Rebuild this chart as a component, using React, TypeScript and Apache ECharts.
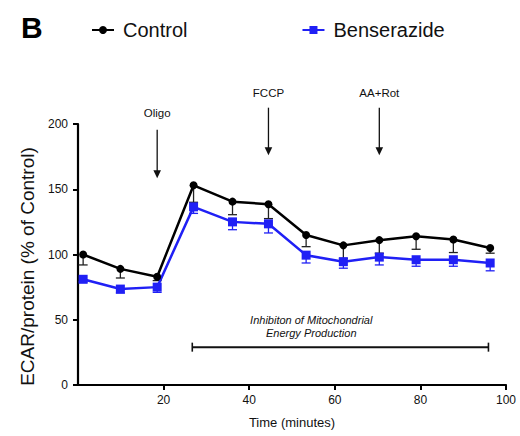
import React, { useEffect, useRef } from "react";
import * as echarts from "echarts";

// ---- data ----
const times = [1.2, 9.9, 18.5, 27.0, 36.1, 44.5, 53.3, 62.0, 70.4, 79.0, 87.7, 96.3];
const control = [100, 89, 83, 153, 140.5, 138.5, 115, 107, 111, 114, 111.5, 105];
const controlErr = [8, 7, 3, 13, 10, 11, 9, 10, 10, 10, 10, 4];
const benserazide = [81, 73.5, 75, 136.5, 125, 123.5, 99.5, 94.5, 98, 96, 96, 93.5];
const benserazideErr = [2, 3, 4, 5, 6, 7, 6, 5, 6, 5, 5, 6];

const seriesNames = ["Control", "Benserazide"];
const injections = [
  { label: "Oligo", x: 18.5, labelY: 208.5, from: 195.5, to: 158.5 },
  { label: "FCCP", x: 44.5, labelY: 224, from: 212.5, to: 176 },
  { label: "AA+Rot", x: 70.4, labelY: 224, from: 212.5, to: 176 },
];
const bracket = { from: 26.7, to: 95.9, y: 29, textX: 54.5, line1Y: 49.6, line2Y: 39.8 };
const bracketLines = ["Inhibiton of Mitochondrial", "Energy Production"];

const FONT = "'Liberation Sans', Arial, Helvetica, sans-serif";
const BLACK = "#000000";
const BLUE = "#2020f5";

function errData(ys: number[], errs: number[]) {
  return times.map((t, i) => [t, ys[i], ys[i] - errs[i]]);
}

function makeErrSeries(name: string, ys: number[], errs: number[], color: string) {
  return {
    type: "custom",
    name,
    z: 1,
    data: errData(ys, errs),
    encode: { x: 0, y: [1, 2] },
    renderItem: (params: any, api: any) => {
      const x = api.value(0);
      const p0 = api.coord([x, api.value(1)]);
      const p1 = api.coord([x, api.value(2)]);
      const style = { stroke: color, lineWidth: 1.3 };
      return {
        type: "group",
        children: [
          { type: "line", shape: { x1: p0[0], y1: p0[1], x2: p1[0], y2: p1[1] }, style },
          { type: "line", shape: { x1: p1[0] - 4.5, y1: p1[1], x2: p1[0] + 4.5, y2: p1[1] }, style },
        ],
      };
    },
  };
}

export default function App() {
  const ref = useRef<HTMLDivElement>(null);
  useEffect(() => {
    if (!ref.current) return;
    const chart = echarts.init(ref.current, null, { renderer: "svg" });
    const option: any = {
      animation: false,
      backgroundColor: "#ffffff",
      title: {
        text: "B",
        left: 16,
        top: 7,
        textStyle: { fontFamily: FONT, fontSize: 30, fontWeight: "bold", color: "#000" },
      },
      legend: {
        data: seriesNames,
        left: 86,
        top: 15,
        itemGap: 114,
        itemWidth: 22,
        itemHeight: 10,
        textStyle: { fontFamily: FONT, fontSize: 20, color: "#111", padding: [0, 0, 0, 4] },
      },
      grid: { left: 78, right: 14, top: 124, bottom: 51, containLabel: false },
      xAxis: {
        type: "value",
        min: 0,
        max: 100,
        interval: 20,
        name: "Time (minutes)",
        nameLocation: "middle",
        nameGap: 31,
        nameTextStyle: { fontFamily: FONT, fontSize: 13, color: "#111" },
        axisLine: { show: true, lineStyle: { color: BLACK, width: 2.2 } },
        axisTick: { show: true, length: 5, lineStyle: { color: BLACK, width: 2 } },
        axisLabel: { showMinLabel: false, fontFamily: FONT, fontSize: 12, color: "#111", margin: 9 },
        splitLine: { show: false },
      },
      yAxis: {
        type: "value",
        min: 0,
        max: 200,
        interval: 50,
        name: "ECAR/protein (% of Control)",
        nameLocation: "middle",
        nameGap: 37,
        nameTextStyle: { fontFamily: FONT, fontSize: 19, color: "#111", padding: [0, 24, 0, 0] },
        axisLine: { show: true, lineStyle: { color: BLACK, width: 2.2 } },
        axisTick: { show: true, length: 5, lineStyle: { color: BLACK, width: 2 } },
        axisLabel: { fontFamily: FONT, fontSize: 12, color: "#111", margin: 10 },
        splitLine: { show: false },
      },
      series: [
        makeErrSeries("Control SEM", control, controlErr, "#222"),
        makeErrSeries("Benserazide SEM", benserazide, benserazideErr, BLUE),
        {
          type: "line",
          name: "Control",
          z: 3,
          data: times.map((t, i) => [t, control[i]]),
          symbol: "circle",
          symbolSize: 8,
          itemStyle: { color: BLACK },
          lineStyle: { color: BLACK, width: 2.5 },
        },
        {
          type: "line",
          name: "Benserazide",
          z: 3,
          data: times.map((t, i) => [t, benserazide[i]]),
          symbol: "rect",
          symbolSize: 9,
          itemStyle: { color: BLUE },
          lineStyle: { color: BLUE, width: 2.5 },
        },
      ],
    };
    chart.setOption(option);

    const px = (x: number, y: number) => chart.convertToPixel({ gridIndex: 0 }, [x, y]) as number[];
    const graphics: any[] = [];
    injections.forEach((a) => {
      const lp = px(a.x, a.labelY);
      const p0 = px(a.x, a.from);
      const p1 = px(a.x, a.to);
      graphics.push({
        type: "text",
        style: { text: a.label, x: lp[0], y: lp[1], align: "center", verticalAlign: "middle", font: `11.5px ${FONT}`, fill: "#111" },
      });
      graphics.push({
        type: "line",
        shape: { x1: p0[0], y1: p0[1], x2: p1[0], y2: p1[1] - 6 },
        style: { stroke: "#111", lineWidth: 1.3 },
      });
      graphics.push({
        type: "polygon",
        shape: { points: [[p1[0] - 3.8, p1[1] - 8], [p1[0] + 3.8, p1[1] - 8], [p1[0], p1[1]]] },
        style: { fill: "#111" },
      });
    });
    const b0 = px(bracket.from, bracket.y);
    const b1 = px(bracket.to, bracket.y);
    graphics.push({ type: "line", shape: { x1: b0[0], y1: b0[1], x2: b1[0], y2: b1[1] }, style: { stroke: "#111", lineWidth: 2 } });
    graphics.push({ type: "line", shape: { x1: b0[0], y1: b0[1] - 4.5, x2: b0[0], y2: b0[1] + 4.5 }, style: { stroke: "#111", lineWidth: 1.6 } });
    graphics.push({ type: "line", shape: { x1: b1[0], y1: b1[1] - 4.5, x2: b1[0], y2: b1[1] + 4.5 }, style: { stroke: "#111", lineWidth: 1.6 } });
    const t1 = px(bracket.textX, bracket.line1Y);
    const t2 = px(bracket.textX, bracket.line2Y);
    graphics.push({
      type: "text",
      style: { text: bracketLines[0], x: t1[0], y: t1[1], align: "center", verticalAlign: "middle", font: `italic 11px ${FONT}`, fill: "#111" },
    });
    graphics.push({
      type: "text",
      style: { text: bracketLines[1], x: t2[0], y: t2[1], align: "center", verticalAlign: "middle", font: `italic 11px ${FONT}`, fill: "#111" },
    });
    chart.setOption({ graphic: graphics });

    return () => chart.dispose();
  }, []);
  return <div ref={ref} style={{ position: "fixed", left: 0, top: 0, width: 520, height: 436 }} />;
}
